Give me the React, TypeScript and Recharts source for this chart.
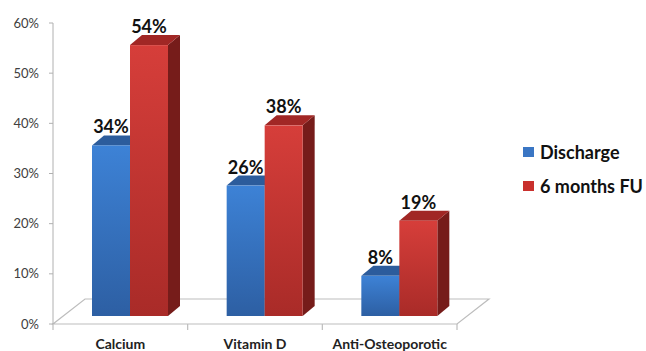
import React from 'react';
import { BarChart, Bar, XAxis, YAxis, Legend, LabelList, usePlotArea } from 'recharts';

const categories = ['Calcium', 'Vitamin D', 'Anti-Osteoporotic'];
const discharge = [34, 26, 8];
const sixMonths = [54, 38, 19];
const yTicks = [0, 10, 20, 30, 40, 50, 60];
const seriesNames = ['Discharge', '6 months FU'];

const data = categories.map((name, i) => ({
  name,
  discharge: discharge[i],
  sixMonths: sixMonths[i],
}));

// fake 3D: where the bars sit on the floor and how deep they are
const SHIFT_X = 10;
const SHIFT_Y = -8;
const DEPTH_X = 12;
const DEPTH_Y = -10;
const FLOOR_X = 32;
const FLOOR_Y = -25;

const FONT = 'Lato, "Open Sans", sans-serif';

const blue = { top: '#2c5c9c', front: 'url(#gradBlue)', side: '#21457a', key: '#3a76c4' };
const red = { top: '#a12725', front: 'url(#gradRed)', side: '#761c1a', key: '#c9302d' };

const Bar3D = (props: any) => {
  const { x, y, width, height, pal } = props;
  if (height == null || height <= 0) return null;
  const fx = x + SHIFT_X;
  const fy = y + SHIFT_Y;
  const top = `${fx},${fy} ${fx + width},${fy} ${fx + width + DEPTH_X},${fy + DEPTH_Y} ${fx + DEPTH_X},${fy + DEPTH_Y}`;
  const side = `${fx + width},${fy} ${fx + width + DEPTH_X},${fy + DEPTH_Y} ${fx + width + DEPTH_X},${fy + height + DEPTH_Y} ${fx + width},${fy + height}`;
  return (
    <g>
      <polygon points={side} fill={pal.side} />
      <polygon points={top} fill={pal.top} />
      <rect x={fx} y={fy} width={width} height={height} fill={pal.front} />
    </g>
  );
};

const ValueLabel = (props: any) => {
  const { x, y, width, value } = props;
  return (
    <text
      x={x + SHIFT_X + width / 2}
      y={y + SHIFT_Y - 12}
      textAnchor="middle"
      fontFamily={FONT}
      fontWeight="bold"
      fontSize={18}
      fill="#111"
    >
      {value}%
    </text>
  );
};

const Floor = () => {
  const area = usePlotArea();
  if (!area) return null;
  const { x, y, width, height } = area;
  const b = y + height;
  const pts = `${x},${b} ${x + width},${b} ${x + width + FLOOR_X},${b + FLOOR_Y} ${x + FLOOR_X},${b + FLOOR_Y}`;
  return (
    <g>
      <polygon points={pts} fill="#fff" stroke="#bdbdbd" strokeWidth={1.2} />
      {categories.concat(['']).map((_, i) => {
        const tx = x + (i * width) / categories.length;
        return <line key={i} x1={tx} x2={tx} y1={b} y2={b + 6} stroke="#bdbdbd" strokeWidth={1.2} />;
      })}
    </g>
  );
};

const LegendBox = () => (
  <div style={{ fontFamily: FONT, fontWeight: 'bold', fontSize: 18, color: '#111' }}>
    {[blue, red].map((pal, i) => (
      <div key={i} style={{ display: 'flex', alignItems: 'center', height: 34 }}>
        <span style={{ width: 11, height: 10, background: pal.key, marginRight: 6, display: 'inline-block' }} />
        <span>{seriesNames[i]}</span>
      </div>
    ))}
  </div>
);

export default function App() {
  return (
    <div style={{ position: 'absolute', left: 0, top: 0, background: '#fff' }}>
      {/* legend box width gets added to the right offset, so the margin is smaller here */}
      <BarChart width={646} height={351} data={data} margin={{ top: 23, right: 66, left: 0, bottom: 0 }} barGap={0}>
        <defs>
          <linearGradient id="gradBlue" x1="0" y1="0" x2="0" y2="1">
            <stop offset="0%" stopColor="#3d82d6" />
            <stop offset="100%" stopColor="#2d5fa3" />
          </linearGradient>
          <linearGradient id="gradRed" x1="0" y1="0" x2="0" y2="1">
            <stop offset="0%" stopColor="#d63e3a" />
            <stop offset="100%" stopColor="#a92b28" />
          </linearGradient>
        </defs>
        <Floor />
        <XAxis
          dataKey="name"
          height={27}
          axisLine={false}
          tickLine={false}
          tickSize={6}
          tickMargin={9}
          interval={0}
          tick={{ fontFamily: FONT, fontWeight: 'bold', fontSize: 14, fill: '#222' }}
        />
        <YAxis
          width={53}
          domain={[0, 60]}
          ticks={yTicks}
          tickFormatter={(v: number) => `${v}%`}
          axisLine={{ stroke: '#b0b0b0' }}
          tickLine={{ stroke: '#b0b0b0' }}
          tickSize={4}
          tickMargin={10}
          tick={{ fontFamily: FONT, fontSize: 13, fill: '#404040' }}
        />
        <Legend
          layout="horizontal"
          verticalAlign="middle"
          align="right"
          content={() => <LegendBox />}
          wrapperStyle={{ left: 523, top: 135, width: 123 }}
        />
        <Bar dataKey="discharge" name={seriesNames[0]} barSize={38} isAnimationActive={false} shape={(p: any) => <Bar3D {...p} pal={blue} />}>
          <LabelList dataKey="discharge" content={ValueLabel} />
        </Bar>
        <Bar dataKey="sixMonths" name={seriesNames[1]} barSize={38} isAnimationActive={false} shape={(p: any) => <Bar3D {...p} pal={red} />}>
          <LabelList dataKey="sixMonths" content={ValueLabel} />
        </Bar>
      </BarChart>
    </div>
  );
}
